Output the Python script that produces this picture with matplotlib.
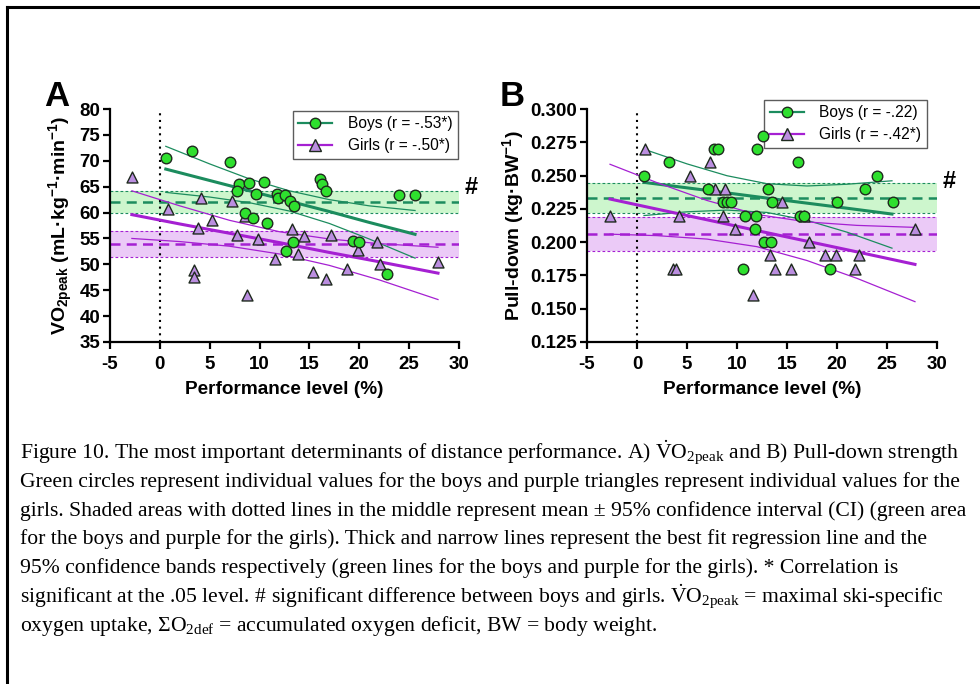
import matplotlib
matplotlib.use('Agg')
import matplotlib.pyplot as plt
from matplotlib.lines import Line2D

plt.rcParams['font.family'] = ['Liberation Sans', 'DejaVu Sans']
plt.rcParams['mathtext.fontset'] = 'custom'
plt.rcParams['mathtext.rm'] = 'Liberation Serif'
plt.rcParams['mathtext.it'] = 'Liberation Serif:italic'
plt.rcParams['mathtext.bf'] = 'Liberation Sans:bold'
plt.rcParams['axes.unicode_minus'] = False

# ============================================================
# DATA
# ============================================================
# Panel A: VO2peak vs performance level
a_boys_x = [0.58, 3.19, 7.07, 7.94, 7.77, 8.97, 10.48, 9.68, 8.54, 9.37, 10.78, 11.71, 11.88,
            12.55, 13.05, 13.49, 16.06, 16.29, 16.66, 13.39, 12.62, 19.34, 20.0, 22.75, 23.95, 25.59]
a_boys_y = [70.5, 71.9, 69.8, 65.6, 64.1, 65.8, 66.0, 63.5, 59.9, 59.0, 57.9, 63.6, 62.9,
            63.3, 62.3, 61.3, 66.4, 65.5, 64.2, 54.4, 52.5, 54.6, 54.3, 48.2, 63.3, 63.3]
a_girls_x = [-2.83, 0.78, 3.86, 3.46, 3.46, 4.13, 5.26, 7.27, 7.77, 8.54, 8.77, 9.81, 11.55,
             13.29, 13.89, 14.49, 15.39, 16.66, 17.16, 18.80, 19.90, 21.74, 22.08, 27.93]
a_girls_y = [66.9, 60.6, 57.0, 48.9, 47.5, 62.9, 58.6, 62.3, 55.6, 59.4, 44.0, 54.9, 51.1,
             56.9, 52.0, 55.4, 48.5, 47.1, 55.6, 49.1, 52.8, 54.3, 50.0, 50.4]

a_boys_fit_x = [0.6, 5, 9, 13, 17, 21, 25.6]
a_boys_fit = [68.4, 66.2, 64.2, 62.2, 60.2, 58.1, 55.8]
a_boys_hi = [72.8, 69.4, 66.5, 64.2, 62.5, 61.3, 60.4]
a_boys_lo = [63.9, 63.0, 61.9, 60.3, 57.9, 54.9, 51.2]
a_girls_fit_x = [-2.8, 2, 7, 12, 17, 22, 27.9]
a_girls_fit = [59.6, 57.8, 56.0, 54.2, 52.3, 50.5, 48.3]
a_girls_hi = [64.2, 61.3, 58.5, 56.3, 54.9, 54.0, 53.3]
a_girls_lo = [55.0, 54.4, 53.5, 52.0, 49.8, 47.0, 43.2]

a_boys_mean, a_boys_ci = 62.1, (60.0, 64.2)
a_girls_mean, a_girls_ci = 53.9, (51.5, 56.4)

# Panel B: Pull-down strength vs performance level
b_boys_x = [0.67, 3.23, 7.1, 7.73, 8.1, 8.6, 9.0, 9.4, 10.83, 10.57, 12.0, 11.9, 11.77,
            12.6, 12.67, 13.43, 13.07, 13.5, 16.1, 16.33, 16.73, 19.33, 20.0, 22.77, 24.0, 25.57]
b_boys_y = [0.25, 0.26, 0.24, 0.27, 0.27, 0.23, 0.23, 0.23, 0.22, 0.18, 0.27, 0.22, 0.21,
            0.28, 0.20, 0.20, 0.24, 0.23, 0.26, 0.22, 0.22, 0.18, 0.23, 0.24, 0.25, 0.23]
b_girls_x = [-2.73, 0.77, 3.57, 3.9, 4.17, 5.27, 7.27, 7.77, 8.77, 8.6, 9.77, 11.6, 13.27,
             13.83, 14.5, 15.43, 16.67, 17.17, 18.83, 19.9, 21.77, 22.17, 27.83]
b_girls_y = [0.22, 0.27, 0.18, 0.18, 0.22, 0.25, 0.26, 0.24, 0.24, 0.22, 0.21, 0.16, 0.19,
             0.18, 0.23, 0.18, 0.22, 0.20, 0.19, 0.19, 0.18, 0.19, 0.21]

b_boys_fit_x = [0.7, 5, 9, 13, 17, 21, 25.5]
b_boys_fit = [0.2449, 0.2408, 0.2370, 0.2331, 0.2293, 0.2255, 0.2211]
b_boys_hi = [0.2698, 0.2588, 0.2499, 0.2439, 0.2422, 0.2435, 0.2461]
b_boys_lo = [0.2200, 0.2228, 0.2241, 0.2223, 0.2164, 0.2075, 0.1955]
b_girls_fit_x = [-2.7, 2, 7, 12, 17, 22, 27.8]
b_girls_fit = [0.2324, 0.2248, 0.2168, 0.2087, 0.2007, 0.1927, 0.1833]
b_girls_hi = [0.2585, 0.2447, 0.2313, 0.2208, 0.2152, 0.2126, 0.2111]
b_girls_lo = [0.2060, 0.2049, 0.2023, 0.1966, 0.1862, 0.1728, 0.1553]

b_boys_mean, b_boys_ci = 0.2331, (0.2222, 0.2442)
b_girls_mean, b_girls_ci = 0.2062, (0.1932, 0.2192)

x_ticks = [-5, 0, 5, 10, 15, 20, 25, 30]
a_y_ticks = [35, 40, 45, 50, 55, 60, 65, 70, 75, 80]
b_y_ticks = [0.125, 0.150, 0.175, 0.200, 0.225, 0.250, 0.275, 0.300]

# Colors
boys_line = '#1c8c5e'
boys_fill = '#cdf6cd'
boys_marker = '#2ee02e'
girls_line = '#a520d2'
girls_fill = '#ebcaf7'
girls_marker = '#bb8ee0'
edge = '#1e2a1e'

caption_lines = [
    r'Figure 10. The most important determinants of distance performance. A) $\dot{\mathrm{V}}\mathrm{O}_{\mathrm{2peak}}$ and B) Pull-down strength',
    'Green circles represent individual values for the boys and purple triangles represent individual values for the',
    'girls. Shaded areas with dotted lines in the middle represent mean ± 95% confidence interval (CI) (green area',
    'for the boys and purple for the girls). Thick and narrow lines represent the best fit regression line and the',
    '95% confidence bands respectively (green lines for the boys and purple for the girls). * Correlation is',
    r'significant at the .05 level. # significant difference between boys and girls. $\dot{\mathrm{V}}\mathrm{O}_{\mathrm{2peak}}$ = maximal ski-specific',
    r'oxygen uptake, ΣO$_{\mathrm{2def}}$ = accumulated oxygen deficit, BW = body weight.',
]

# ============================================================
# FIGURE
# ============================================================
fig = plt.figure(figsize=(9.8, 6.84), dpi=100)
fig.patch.set_facecolor('white')

ax_a = fig.add_axes([0.1122, 0.5, 0.3561, 0.3406])
ax_b = fig.add_axes([0.599, 0.5, 0.3571, 0.3406])


def draw_panel(ax, boys_x, boys_y, girls_x, girls_y,
               bfx, bfit, bhi, blo, gfx, gfit, ghi, glo,
               bmean, bci, gmean, gci):
    # mean +/- 95% CI shaded areas
    ax.axhspan(bci[0], bci[1], color=boys_fill, lw=0, zorder=0)
    ax.axhspan(gci[0], gci[1], color=girls_fill, lw=0, zorder=0)
    for v in bci:
        ax.axhline(v, color=boys_line, lw=0.8, ls=(0, (2.5, 2)), zorder=1)
    for v in gci:
        ax.axhline(v, color=girls_line, lw=0.8, ls=(0, (2.5, 2)), zorder=1)
    ax.axhline(bmean, color=boys_line, lw=1.8, ls=(0, (4, 2.5)), zorder=2)
    ax.axhline(gmean, color=girls_line, lw=1.8, ls=(0, (4, 2.5)), zorder=2)

    # zero performance line
    ax.axvline(0, color='black', lw=1.5, ls=(0, (1, 2.2)), zorder=3)

    # regression lines and 95% confidence bands
    ax.plot(bfx, bfit, color=boys_line, lw=2.2, zorder=4)
    ax.plot(bfx, bhi, color=boys_line, lw=0.9, zorder=4)
    ax.plot(bfx, blo, color=boys_line, lw=0.9, zorder=4)
    ax.plot(gfx, gfit, color=girls_line, lw=2.2, zorder=4)
    ax.plot(gfx, ghi, color=girls_line, lw=0.9, zorder=4)
    ax.plot(gfx, glo, color=girls_line, lw=0.9, zorder=4)

    # individual values
    ax.scatter(girls_x, girls_y, marker='^', s=62, facecolor=girls_marker,
               edgecolor=edge, linewidth=1.0, zorder=5)
    ax.scatter(boys_x, boys_y, marker='o', s=58, facecolor=boys_marker,
               edgecolor=edge, linewidth=1.0, zorder=6)

    ax.set_xlim(-5, 30)
    ax.set_xticks(x_ticks)
    ax.spines['top'].set_visible(False)
    ax.spines['right'].set_visible(False)
    ax.spines['left'].set_linewidth(1.6)
    ax.spines['bottom'].set_linewidth(1.6)
    ax.tick_params(width=1.6, length=5, labelsize=13.5, pad=2)
    ax.tick_params(axis='x', pad=5)
    for lab in ax.get_xticklabels() + ax.get_yticklabels():
        lab.set_fontweight('bold')
    ax.set_xlabel('Performance level (%)', fontsize=13.7, fontweight='bold', labelpad=6)


draw_panel(ax_a, a_boys_x, a_boys_y, a_girls_x, a_girls_y,
           a_boys_fit_x, a_boys_fit, a_boys_hi, a_boys_lo,
           a_girls_fit_x, a_girls_fit, a_girls_hi, a_girls_lo,
           a_boys_mean, a_boys_ci, a_girls_mean, a_girls_ci)
ax_a.set_ylim(35, 80)
ax_a.set_yticks(a_y_ticks)
for lab in ax_a.get_yticklabels():
    lab.set_fontweight('bold')
ax_a.set_ylabel(r'VO$\mathbf{_{2peak}}$ (mL·kg$\mathbf{^{-1}}$·min$\mathbf{^{-1}}$)',
                fontsize=14, fontweight='bold', labelpad=3)

draw_panel(ax_b, b_boys_x, b_boys_y, b_girls_x, b_girls_y,
           b_boys_fit_x, b_boys_fit, b_boys_hi, b_boys_lo,
           b_girls_fit_x, b_girls_fit, b_girls_hi, b_girls_lo,
           b_boys_mean, b_boys_ci, b_girls_mean, b_girls_ci)
ax_b.set_ylim(0.125, 0.300)
ax_b.set_yticks(b_y_ticks)
ax_b.set_yticklabels([f'{v:.3f}' for v in b_y_ticks], fontweight='bold')
ax_b.set_ylabel(r'Pull-down (kg·BW$\mathbf{^{-1}}$)', fontsize=14,
                fontweight='bold', labelpad=3)

# legends
def legend_handles():
    return [Line2D([], [], color=boys_line, lw=1.6, marker='o', markersize=7.5,
                   markerfacecolor=boys_marker, markeredgecolor=edge),
            Line2D([], [], color=girls_line, lw=1.6, marker='^', markersize=8,
                   markerfacecolor=girls_marker, markeredgecolor=edge)]


leg_a = ax_a.legend(legend_handles(), ['Boys (r = -.53*)', 'Girls (r = -.50*)'],
                    loc='upper right', bbox_to_anchor=(0.997, 0.993), fontsize=11.2,
                    frameon=True, fancybox=False, edgecolor='#333333',
                    handlelength=2.2, borderpad=0.35, labelspacing=0.45,
                    handletextpad=1.0, borderaxespad=0)
leg_a.get_frame().set_linewidth(1.0)
leg_b = ax_b.legend(legend_handles(), ['Boys (r = -.22)', 'Girls (r = -.42*)'],
                    loc='upper right', bbox_to_anchor=(0.971, 1.039), fontsize=11.2,
                    frameon=True, fancybox=False, edgecolor='#333333',
                    handlelength=2.2, borderpad=0.35, labelspacing=0.45,
                    handletextpad=1.0, borderaxespad=0)
leg_b.get_frame().set_linewidth(1.0)

# significance markers
ax_a.text(1.017, 0.665, '#', transform=ax_a.transAxes, fontsize=17,
          fontweight='bold', ha='left', va='center', clip_on=False)
ax_b.text(1.017, 0.687, '#', transform=ax_b.transAxes, fontsize=17,
          fontweight='bold', ha='left', va='center', clip_on=False)

# panel letters
fig.text(57 / 980, 1 - 96 / 684, 'A', fontsize=25, fontweight='bold',
         ha='center', va='center')
fig.text(512 / 980, 1 - 96 / 684, 'B', fontsize=25, fontweight='bold',
         ha='center', va='center')

# page frame (left and top edges)
fig.add_artist(Line2D([7 / 980, 7 / 980], [0, 1 - 7 / 684], color='black',
                      lw=2.2, transform=fig.transFigure))
fig.add_artist(Line2D([7 / 980, 1], [1 - 7 / 684, 1 - 7 / 684], color='black',
                      lw=2.2, transform=fig.transFigure))

# caption
for i, line in enumerate(caption_lines):
    y_px = 453 + i * 28.8
    fig.text(20 / 980, 1 - y_px / 684, line, fontsize=15.6,
             family=['Liberation Serif', 'DejaVu Serif'], ha='left', va='center')

fig.savefig('out.png', dpi=100, facecolor='white')
